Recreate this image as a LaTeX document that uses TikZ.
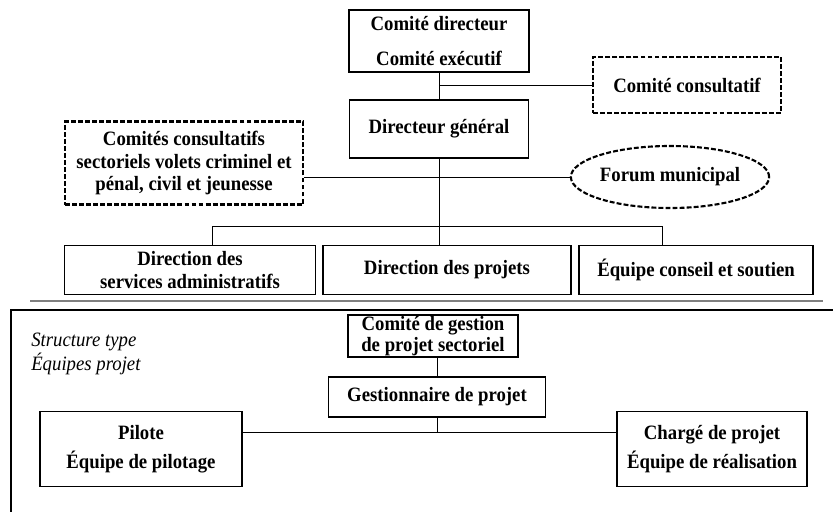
\documentclass[tikz,border=0pt]{standalone}
\usepackage{fontspec}
\setmainfont[FakeStretch=0.92]{Liberation Serif}
\usepackage{tikz}
\usetikzlibrary{positioning, shapes.geometric}

\begin{document}
\begin{tikzpicture}[
        x=0.025cm, y=-0.025cm,
        font=\fontsize{14.5}{16}\selectfont\bfseries,
        box/.style={draw, rectangle, align=center, inner sep=0pt, line width=0.8pt},
        dashbox/.style={box, line width=1.5pt, dash pattern=on 3.5pt off 1.5pt},
        link/.style={draw, line width=0.6pt}
    ]
    \useasboundingbox (0,0) rectangle (833,512);

    % direction generale
    \node[box, line width=1.6pt, minimum width=4.5cm, minimum height=1.55cm] (dirco) at (439,41) {Comité directeur\\[9pt]Comité exécutif};
    \node[dashbox, minimum width=4.7cm, minimum height=1.4cm] (consult) at (687,85) {Comité consultatif};
    \node[box, minimum width=4.475cm, minimum height=1.45cm] (dg) at (439,129) {Directeur général};
    \node[dashbox, minimum width=5.95cm, minimum height=2.075cm] (sect) at (184,163) {Comités consultatifs\\sectoriels volets criminel et\\pénal, civil et jeunesse};
    \node[ellipse, draw, line width=1.5pt, dash pattern=on 3.5pt off 1.5pt, inner sep=0pt, minimum width=4.25cm, minimum height=1.55cm] (forum) at (670,177) {Forum municipal};

    \node[box, minimum width=6.275cm, minimum height=1.225cm] (dsa) at (190,270) {Direction des\\services administratifs};
    \node[box, minimum width=6.2cm, minimum height=1.225cm] (dp) at (447,270) {Direction des projets};
    \node[box, minimum width=5.85cm, minimum height=1.225cm] (eq) at (696,270) {Équipe conseil et soutien};

    \draw[link] (dirco) -- (dg);
    \draw[link] (consult.west) -- (consult.west -| dg.north);
    \draw[link] (sect.east |- forum.west) -- (forum.west);
    \draw[link] (dg.south) -- (dg.south |- dp.north);
    \coordinate (busl) at (212,226);
    \coordinate (busr) at (662,226);
    \draw[link] (busl |- dsa.north) -- (busl) -- (busr) -- (busr |- eq.north);

    % separation
    \draw[gray, line width=1.5pt] (30,301) -- (823,301);
    \draw[line width=1.5pt] (833,310) -- (11,310) -- (11,512);

    % equipes projet
    \node[font=\fontsize{14.5}{13}\selectfont\itshape, align=left, anchor=west, inner sep=0pt] (stype) at (31,354) {Structure type\\Équipes projet};
    \node[box, minimum width=4.25cm, minimum height=1.05cm, font=\fontsize{14.5}{15}\selectfont\bfseries] (cgp) at (433,336) {Comité de gestion\\de projet sectoriel};
    \node[box, minimum width=5.425cm, minimum height=1.0cm] (gp) at (437,397) {Gestionnaire de projet};
    \node[box, minimum width=5.05cm, minimum height=1.875cm] (pil) at (141,449) {Pilote\\[5pt]Équipe de pilotage};
    \node[box, minimum width=4.75cm, minimum height=1.875cm] (chg) at (712,449) {Chargé de projet\\[5pt]Équipe de réalisation};

    \draw[link] (gp.north) -- (gp.north |- cgp.south);
    \coordinate (hub) at (gp.south |- 0,432);
    \draw[link] (gp.south) -- (hub);
    \draw[link] (pil.east |- hub) -- (chg.west |- hub);
\end{tikzpicture}
\end{document}
